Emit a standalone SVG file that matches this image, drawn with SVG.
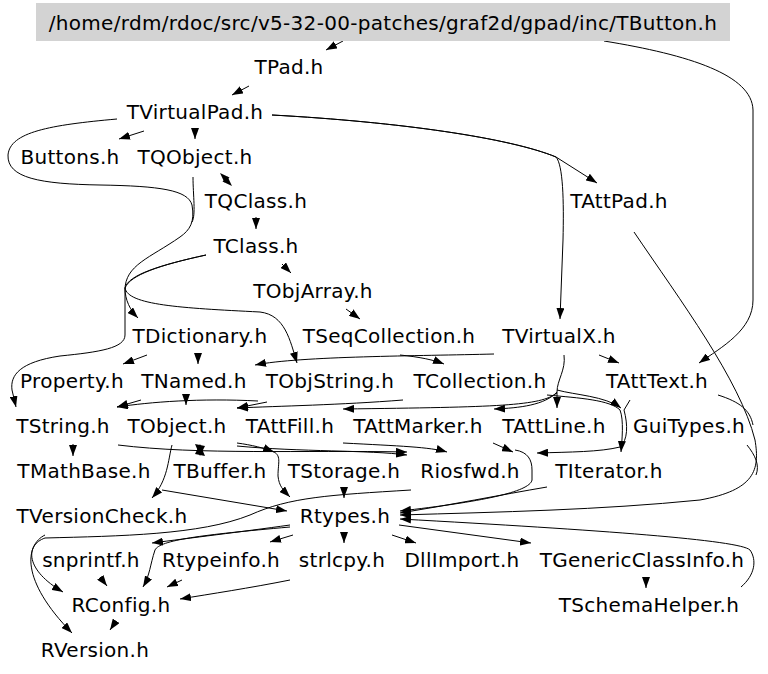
<svg xmlns="http://www.w3.org/2000/svg" width="768" height="674" viewBox="0 0 768 674">
<defs>
<marker id="a" markerUnits="userSpaceOnUse" markerWidth="11" markerHeight="8" viewBox="0 0 11 8" refX="11" refY="4" orient="auto"><path d="M0,0 L11,4 L0,8 z" fill="#000"/></marker>
<style>
text{font-family:"DejaVu Sans","Liberation Sans",sans-serif;font-size:20px;fill:#000;text-anchor:middle;letter-spacing:0.3px}
.e{fill:none;stroke:#000;stroke-width:1;marker-end:url(#a)}
.n{fill:none;stroke:#000;stroke-width:1}
.h{fill:#000}
</style>
</defs>
<rect x="0" y="0" width="768" height="674" fill="#fff"/>
<g id="connectors">
<path class="e" d="M343,41 L326,50"/>
<path class="e" d="M604,41 C690,55 752,75 753,110 L753,300 C753,330 722,347 699,363"/>
<path class="e" d="M249,86 L232,95"/>
<path class="e" d="M144,131 L119,139"/>
<path class="e" d="M195,129 L195,139"/>
<path class="e" d="M272,115 C400,122 510,138 556,157 L597,183"/>
<path class="e" d="M272,115 C400,122 510,138 556,157 C563,165 564,200 563,240 L560,319"/>
<path class="e" d="M117,119 C50,125 10,132 8,155 C7,178 40,184 100,185 C160,186 188,190 192,205 C195,222 190,230 180,237 C150,258 125,265 125,290 L125,335 C125,348 100,352 60,356 C20,362 10,375 12,390 L16,407"/>
<path class="n" d="M193,177 C193,195 196,215 192,222"/>
<polygon class="h" points="232,186 222.5,181.5 227.5,176.5"/>
<polygon class="h" points="220,173 224.5,182.5 229.5,177.5"/>
<path class="e" d="M256,217 L256,229"/>
<path class="e" d="M282,264 L291,273"/>
<path class="e" d="M346,309 L360,319"/>
<path class="e" d="M206,255 C160,265 130,275 125,288 C125,300 130,310 138,318"/>
<path class="e" d="M206,255 C160,265 128,275 125,288 C128,305 180,308 260,312 C285,315 290,340 297,363"/>
<path class="e" d="M147,355 L123,364"/>
<path class="e" d="M198,353 L198,364"/>
<path class="e" d="M400,355 C420,357 434,360 444,364"/>
<path class="e" d="M494,354 C420,356 300,356 255,365"/>
<path class="e" d="M599,355 L619,363"/>
<path class="e" d="M564,355 C566,370 557,380 557,392 L557,408"/>
<path class="e" d="M557,390 C575,395 605,396 621,408"/>
<path class="e" d="M557,392 C545,405 520,408 494,409"/>
<path class="e" d="M557,393 C540,406 500,407 343,409"/>
<path class="e" d="M141,400 L117,407"/>
<path class="e" d="M186,395 L186,405"/>
<path class="e" d="M258,401 C200,398 150,402 117,407"/>
<path class="e" d="M267,402 L237,408"/>
<path class="e" d="M403,400 C340,405 280,406 237,408"/>
<path class="e" d="M547,395 C580,398 610,400 620,410 C624,420 622,440 621,452"/>
<path class="e" d="M630,400 L624,410 C628,425 628,440 620,447 C600,452 570,452 537,453"/>
<path class="e" d="M73,444 L73,456"/>
<path class="e" d="M118,445 C200,455 300,450 407,452"/>
<polygon class="h" points="195,444 200,456 205,446"/>
<polygon class="h" points="205,456 200,444 195,454"/>
<path class="e" d="M237,443 C252,445 264,448 274,452"/>
<path class="e" d="M272,451 C282,455 278,462 278,476 C279,486 283,490 290,497"/>
<path class="e" d="M237,446 C300,452 370,450 407,455"/>
<path class="e" d="M343,443 C400,446 430,447 447,452"/>
<path class="e" d="M493,443 L513,452"/>
<path class="e" d="M515,450 C528,452 532,460 532,470 L532,480 C530,492 480,502 400,511"/>
<path class="e" d="M172,445 C168,460 168,480 152,498"/>
<path class="e" d="M162,490 L287,511"/>
<path class="e" d="M344,487 L344,498"/>
<path class="e" d="M547,487 C500,495 450,505 400,513"/>
<path class="e" d="M634,232 C680,300 740,380 755,440 C760,470 755,490 700,500 C600,510 500,512 400,515"/>
<path class="n" d="M718,395 C740,402 750,410 753,425"/>
<path class="n" d="M747,445 C755,455 760,465 756,475"/>
<path class="e" d="M741,587 C755,575 757,560 750,550 C740,540 600,530 400,519"/>
<path class="e" d="M399,525 L531,543"/>
<path class="e" d="M392,535 L416,543"/>
<path class="e" d="M344,533 L344,543"/>
<path class="e" d="M293,535 L270,542"/>
<path class="e" d="M290,525 C240,532 190,538 152,543"/>
<path class="e" d="M290,527 C200,535 160,540 155,550 C150,565 150,575 143,587"/>
<path class="e" d="M411,490 C330,495 290,497 250,515 C200,535 120,536 45,538 C25,545 25,570 63,592"/>
<path class="e" d="M45,535 C25,545 20,580 72,633"/>
<path class="e" d="M100,577 L107,586"/>
<path class="e" d="M182,580 L167,587"/>
<path class="e" d="M290,580 C250,588 210,594 180,599"/>
<path class="e" d="M116,621 L110,630"/>
<path class="e" d="M646,577 L646,588"/>
</g>
<g id="n0"><rect x="36" y="3" width="694" height="38" fill="#d3d3d3"/><text x="383" y="30">/home/rdm/rdoc/src/v5-32-00-patches/graf2d/gpad/inc/TButton.h</text></g>
<g id="n1"><text x="289" y="74">TPad.h</text></g>
<g id="n2"><text x="195" y="119">TVirtualPad.h</text></g>
<g id="n3"><text x="70" y="164">Buttons.h</text></g>
<g id="n4"><text x="195" y="164">TQObject.h</text></g>
<g id="n5"><text x="256" y="208">TQClass.h</text></g>
<g id="n6"><text x="256" y="253">TClass.h</text></g>
<g id="n7"><text x="313" y="298">TObjArray.h</text></g>
<g id="n8"><text x="200" y="343">TDictionary.h</text></g>
<g id="n9"><text x="389" y="343">TSeqCollection.h</text></g>
<g id="n10"><text x="559" y="343">TVirtualX.h</text></g>
<g id="n11"><text x="619" y="208">TAttPad.h</text></g>
<g id="n12"><text x="72" y="388">Property.h</text></g>
<g id="n13"><text x="194" y="388">TNamed.h</text></g>
<g id="n14"><text x="330" y="388">TObjString.h</text></g>
<g id="n15"><text x="480" y="388">TCollection.h</text></g>
<g id="n16"><text x="657" y="388">TAttText.h</text></g>
<g id="n17"><text x="63" y="433">TString.h</text></g>
<g id="n18"><text x="177" y="433">TObject.h</text></g>
<g id="n19"><text x="290" y="433">TAttFill.h</text></g>
<g id="n20"><text x="418" y="433">TAttMarker.h</text></g>
<g id="n21"><text x="554" y="433">TAttLine.h</text></g>
<g id="n22"><text x="689" y="433">GuiTypes.h</text></g>
<g id="n23"><text x="84" y="478">TMathBase.h</text></g>
<g id="n24"><text x="220" y="478">TBuffer.h</text></g>
<g id="n25"><text x="344" y="478">TStorage.h</text></g>
<g id="n26"><text x="470" y="478">Riosfwd.h</text></g>
<g id="n27"><text x="609" y="478">TIterator.h</text></g>
<g id="n28"><text x="102" y="523">TVersionCheck.h</text></g>
<g id="n29"><text x="345" y="523">Rtypes.h</text></g>
<g id="n30"><text x="91" y="567">snprintf.h</text></g>
<g id="n31"><text x="221" y="567">Rtypeinfo.h</text></g>
<g id="n32"><text x="342" y="567">strlcpy.h</text></g>
<g id="n33"><text x="462" y="567">DllImport.h</text></g>
<g id="n34"><text x="642" y="567">TGenericClassInfo.h</text></g>
<g id="n35"><text x="121" y="612">RConfig.h</text></g>
<g id="n36"><text x="649" y="612">TSchemaHelper.h</text></g>
<g id="n37"><text x="95" y="657">RVersion.h</text></g>
</svg>
